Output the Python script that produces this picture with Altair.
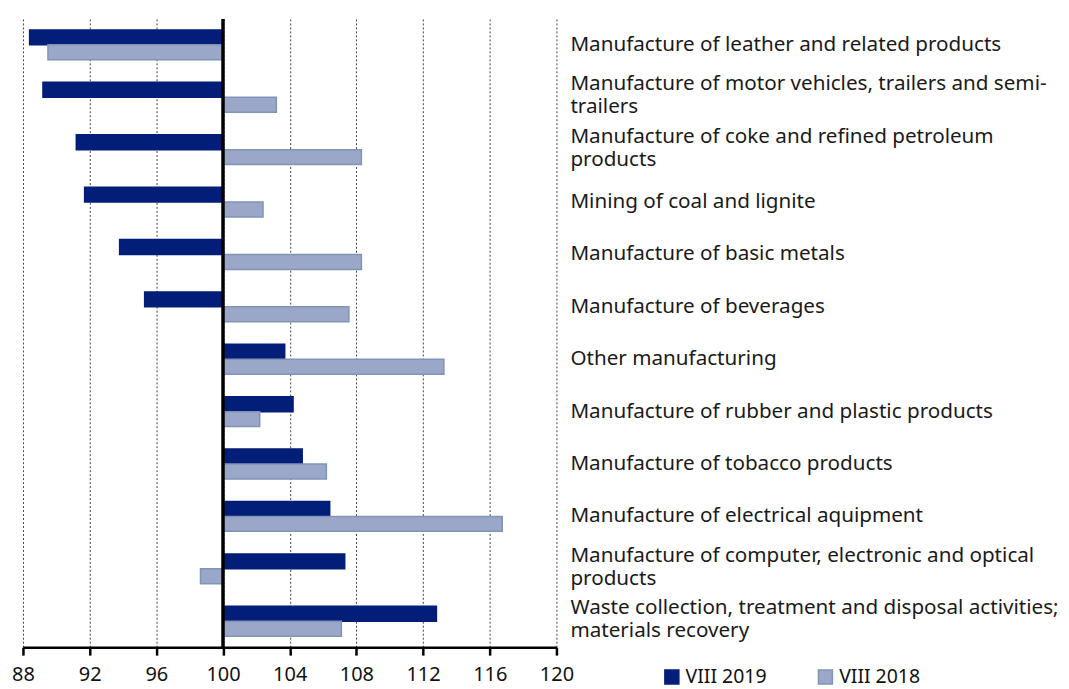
import altair as alt
import pandas as pd

categories = [
    "Manufacture of leather and related products",
    "Manufacture of motor vehicles, trailers  and semi-|trailers",
    "Manufacture of coke and refined petroleum|products",
    "Mining of coal and lignite",
    "Manufacture of basic metals",
    "Manufacture of beverages",
    "Other manufacturing",
    "Manufacture of rubber and plastic products",
    "Manufacture of tobacco products",
    "Manufacture of electrical aquipment",
    "Manufacture of computer, electronic and optical|products",
    "Waste collection, treatment and disposal activities;|materials recovery",
]
v2019 = [88.4, 89.2, 91.2, 91.7, 93.8, 95.3, 103.7, 104.2, 104.75, 106.4, 107.3, 112.8]
v2018 = [89.5, 103.2, 108.3, 102.4, 108.3, 107.55, 113.25, 102.2, 106.2, 116.75, 98.65, 107.1]
series = ["VIII 2019", "VIII 2018"]
ticks = [88, 92, 96, 100, 104, 108, 112, 116, 120]

rows = []
for c, a, b in zip(categories, v2019, v2018):
    rows.append({"cat": c, "series": series[0], "value": a})
    rows.append({"cat": c, "series": series[1], "value": b})
df = pd.DataFrame(rows)
lab1 = pd.DataFrame({"cat": [c for c in categories if "|" not in c]})
lab2 = pd.DataFrame({"cat": [c for c in categories if "|" in c]})

FONT = "Noto Sans"
W, H = 535, 630

yscale = alt.Scale(domain=categories, paddingInner=0.43, paddingOuter=0.21)
xscale = alt.Scale(domain=[88, 120], nice=False, zero=False)

bars = alt.Chart(df).mark_bar(strokeWidth=1.5).encode(
    x=alt.X("value:Q", scale=xscale,
            axis=alt.Axis(values=ticks, title=None, grid=True, gridDash=[2, 2],
                          gridColor="#444", gridWidth=1, domainColor="black",
                          domainWidth=2.5, tickColor="black", tickWidth=2.5,
                          tickSize=8, labelFontSize=20, labelFont=FONT,
                          labelColor="#111", labelPadding=9, labelFlush=False)),
    x2=alt.datum(100),
    y=alt.Y("cat:N", scale=yscale, axis=None, sort=categories),
    yOffset=alt.YOffset("series:N", scale=alt.Scale(domain=series)),
    color=alt.Color("series:N",
                    scale=alt.Scale(domain=series, range=["#021E78", "#9AA7C9"]),
                    legend=alt.Legend(title=None, orient="none", legendX=641, legendY=650,
                                      direction="horizontal", symbolType="square",
                                      symbolSize=196, labelFontSize=19.5, labelFont=FONT,
                                      labelColor="#111", columnPadding=48, padding=0,
                                      labelOffset=4, symbolStrokeWidth=1.5)),
    stroke=alt.Stroke("series:N",
                      scale=alt.Scale(domain=series, range=["#021E78", "#8095B6"]),
                      legend=None),
)

rule = alt.Chart(pd.DataFrame({"v": [100]})).mark_rule(color="black", strokeWidth=3.5).encode(
    x=alt.X("v:Q", scale=xscale)
)

text_props = dict(align="left", baseline="middle", font=FONT, fontSize=20.7,
                  color="#1a1a1a", lineBreak="|", lineHeight=23)

labels1 = alt.Chart(lab1).mark_text(**text_props).encode(
    y=alt.Y("cat:N", scale=yscale, axis=None, sort=categories),
    x=alt.value(549),
    text="cat:N",
)
labels2 = alt.Chart(lab2).mark_text(dy=-13, **text_props).encode(
    y=alt.Y("cat:N", scale=yscale, axis=None, sort=categories),
    x=alt.value(549),
    text="cat:N",
)

chart = alt.layer(bars, rule, labels1, labels2).properties(
    width=W, height=H,
    padding={"left": 3, "top": 8, "right": 2, "bottom": 0},
).configure_view(stroke=None)

chart.save("out.html", embed_options={"renderer": "svg", "actions": False})
